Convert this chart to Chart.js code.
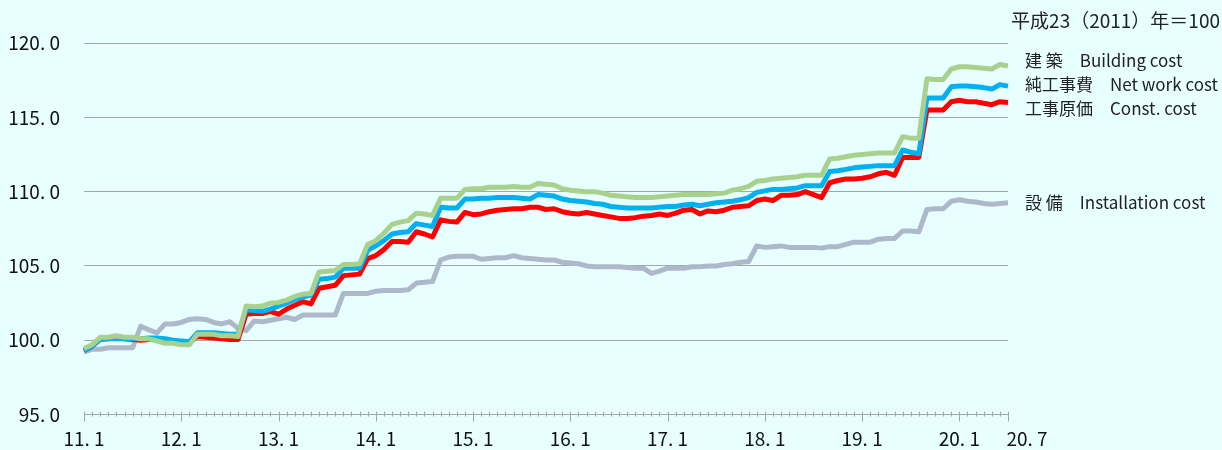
<!DOCTYPE html>
<html>
<head>
<meta charset="utf-8">
<script src="https://cdn.jsdelivr.net/npm/chart.js@4"></script>
<style>
  html, body { margin: 0; padding: 0; background: #e8ffff; }
  #wrap { width: 1222px; height: 450px; position: relative; }
</style>
</head>
<body>
<div id="wrap"><canvas id="costChart"></canvas></div>
<script>
// 月次ラベル 2011.1 〜 2020.7
const years = ['11', '12', '13', '14', '15', '16', '17', '18', '19', '20'];
const lastMonth = 7;
const categories = [];
years.forEach((yy, k) => {
    const end = k === years.length - 1 ? lastMonth : 12;
    for (let m = 1; m <= end; m++) categories.push(yy + '.' + m);
});

const yTicks = [95, 100, 105, 110, 115, 120];

const buildingCost = [
    99.45, 99.7, 100.2, 100.2, 100.3, 100.2, 100.2, 100.1, 100.1, 99.95, 99.8, 99.8,
    99.7, 99.7, 100.4, 100.4, 100.4, 100.3, 100.3, 100.25, 102.3, 102.25, 102.3, 102.5,
    102.55, 102.7, 102.95, 103.1, 103.15, 104.6, 104.65, 104.7, 105.1, 105.1, 105.15, 106.45,
    106.7, 107.2, 107.8, 107.95, 108.05, 108.55, 108.5, 108.4, 109.55, 109.55, 109.55, 110.15,
    110.2, 110.2, 110.3, 110.3, 110.3, 110.35, 110.3, 110.3, 110.55, 110.5, 110.45, 110.2,
    110.1, 110.05, 110.0, 110.0, 109.9, 109.75, 109.7, 109.65, 109.6, 109.6, 109.6, 109.65,
    109.7, 109.75, 109.8, 109.8, 109.8, 109.8, 109.85, 109.9, 110.1, 110.2, 110.35, 110.7,
    110.75, 110.85, 110.9, 110.95, 111.0, 111.1, 111.1, 111.1, 112.2, 112.25, 112.35, 112.45,
    112.5, 112.55, 112.6, 112.6, 112.6, 113.7, 113.6, 113.6, 117.6, 117.55, 117.55, 118.25,
    118.4, 118.4, 118.35, 118.3, 118.25, 118.55, 118.45
];
const netWorkCost = [
    99.3, 99.6, 100.05, 100.1, 100.1, 100.1, 100.1, 100.1, 100.15, 100.15, 100.1, 100.0,
    99.95, 99.9, 100.5, 100.5, 100.5, 100.45, 100.4, 100.4, 102.05, 102.0, 101.95, 102.1,
    102.3, 102.5, 102.75, 102.9, 103.05, 104.1, 104.15, 104.25, 104.85, 104.85, 104.85, 106.05,
    106.35, 106.7, 107.15, 107.25, 107.3, 107.85, 107.75, 107.65, 108.95, 108.9, 108.9, 109.5,
    109.5, 109.55, 109.55, 109.6, 109.6, 109.6, 109.55, 109.5, 109.8, 109.75, 109.7, 109.5,
    109.4, 109.35, 109.3, 109.2, 109.15, 109.0, 108.95, 108.9, 108.9, 108.9, 108.9, 108.95,
    109.0, 109.0, 109.1, 109.15, 109.05, 109.15, 109.25, 109.3, 109.35, 109.45, 109.6, 109.95,
    110.05, 110.15, 110.15, 110.2, 110.25, 110.4, 110.4, 110.4, 111.35, 111.4, 111.5, 111.6,
    111.65, 111.7, 111.75, 111.75, 111.75, 112.8, 112.65, 112.55, 116.3, 116.3, 116.3, 117.05,
    117.1, 117.1, 117.05, 117.0, 116.9, 117.2, 117.1
];
const constCost = [
    99.3, 99.6, 100.1, 100.1, 100.15, 100.1, 100.05, 100.0, 100.05, 100.1, 100.05, 99.95,
    99.9, 99.85, 100.25, 100.2, 100.15, 100.1, 100.05, 100.05, 101.75, 101.8, 101.8, 101.95,
    101.75, 102.1, 102.35, 102.6, 102.45, 103.5, 103.6, 103.7, 104.35, 104.4, 104.45, 105.5,
    105.7, 106.1, 106.65, 106.65, 106.6, 107.3, 107.15, 106.95, 108.1, 108.0, 107.95, 108.6,
    108.45, 108.5, 108.65, 108.75, 108.8, 108.85, 108.85, 108.95, 108.95, 108.8, 108.85, 108.65,
    108.55, 108.5, 108.6, 108.5, 108.4, 108.3, 108.2, 108.2, 108.25, 108.35, 108.4, 108.5,
    108.4, 108.55, 108.75, 108.8, 108.5, 108.7, 108.65, 108.75, 108.95, 109.0, 109.05, 109.4,
    109.5, 109.4, 109.75, 109.75, 109.8, 110.0, 109.8, 109.6, 110.6, 110.75, 110.85, 110.85,
    110.9, 111.0, 111.2, 111.3, 111.1, 112.3, 112.3, 112.3, 115.5, 115.5, 115.5, 116.05,
    116.15, 116.05, 116.05, 115.95, 115.85, 116.05, 116.0
];
const installationCost = [
    99.2, 99.4, 99.4, 99.5, 99.5, 99.5, 99.5, 100.95, 100.7, 100.5, 101.1, 101.1,
    101.2, 101.4, 101.45, 101.4, 101.2, 101.1, 101.25, 100.8, 100.65, 101.3, 101.25, 101.35,
    101.45, 101.55, 101.4, 101.7, 101.7, 101.7, 101.7, 101.7, 103.15, 103.15, 103.15, 103.15,
    103.3, 103.35, 103.35, 103.35, 103.4, 103.85, 103.9, 103.95, 105.4, 105.6, 105.65, 105.65,
    105.65, 105.45, 105.5, 105.55, 105.55, 105.7, 105.55, 105.5, 105.45, 105.4, 105.4, 105.25,
    105.2, 105.15, 105.0, 104.95, 104.95, 104.95, 104.95, 104.9, 104.85, 104.85, 104.5, 104.65,
    104.85, 104.85, 104.85, 104.95, 104.95, 105.0, 105.0, 105.1, 105.15, 105.25, 105.3, 106.35,
    106.25, 106.3, 106.35, 106.25, 106.25, 106.25, 106.25, 106.2, 106.3, 106.3, 106.45, 106.6,
    106.6, 106.6, 106.8, 106.85, 106.85, 107.35, 107.35, 107.3, 108.8, 108.85, 108.85, 109.35,
    109.45, 109.35, 109.3, 109.2, 109.15, 109.2, 109.25
];

const seriesNamesJa = ['建 築', '純工事費', '工事原価', '設 備'];
const seriesNamesEn = ['Building cost', 'Net work cost', 'Const. cost', 'Installation cost'];
const seriesColors = ['#a9d18e', '#00b0f0', '#ff0000', '#adb9ca'];
const baseNote = '平成23（2011）年＝100';

const FONT = '"Noto Sans CJK JP", "Noto Sans", sans-serif';

function fmtDot(s) {
    return s.replace('.', '. ');
}

function isMajor(i) {
    return categories[i].split('.')[1] === '1' || i === categories.length - 1;
}

// 月目盛り（年初は長め）
const monthTicksPlugin = {
    id: 'monthTicks',
    afterDraw(chart) {
        const { ctx, chartArea } = chart;
        const x = chart.scales.x;
        const bottom = chartArea.bottom;
        ctx.save();
        ctx.strokeStyle = '#a6a6a6';
        ctx.lineWidth = 1;
        categories.forEach((c, i) => {
            const px = Math.round(x.getPixelForValue(i)) + 0.5;
            ctx.beginPath();
            ctx.moveTo(px, bottom - 3);
            ctx.lineTo(px, bottom + (isMajor(i) ? 7 : 2));
            ctx.stroke();
        });
        ctx.restore();
    }
};

// 系列名ラベル（右端）と基準年注記
const endLabelsPlugin = {
    id: 'endLabels',
    afterDraw(chart) {
        const { ctx, chartArea } = chart;
        const y = chart.scales.y;
        const items = chart.data.datasets.map((ds, k) => ({
            k,
            pos: y.getPixelForValue(ds.data[ds.data.length - 1])
        }));
        items.sort((a, b) => a.pos - b.pos);
        const gap = 24;
        for (let it = 0; it < 60; it++) {
            for (let j = 0; j < items.length - 1; j++) {
                const d = items[j + 1].pos - items[j].pos;
                if (d < gap) {
                    const s = (gap - d) / 2;
                    items[j].pos -= s;
                    items[j + 1].pos += s;
                }
            }
        }
        ctx.save();
        ctx.font = '17px ' + FONT;
        ctx.fillStyle = '#222';
        ctx.textAlign = 'left';
        ctx.textBaseline = 'middle';
        items.forEach(it => {
            ctx.fillText(seriesNamesJa[it.k] + '\u3000' + seriesNamesEn[it.k], chartArea.right + 17, it.pos);
        });
        ctx.font = '19px ' + FONT;
        ctx.textAlign = 'right';
        ctx.fillText(baseNote, 1220, 21);
        ctx.restore();
    }
};

const ctx = document.getElementById('costChart').getContext('2d');

new Chart(ctx, {
    type: 'line',
    data: {
        labels: categories,
        datasets: [
            { label: seriesNamesJa[0], data: buildingCost, borderColor: seriesColors[0] },
            { label: seriesNamesJa[1], data: netWorkCost, borderColor: seriesColors[1] },
            { label: seriesNamesJa[2], data: constCost, borderColor: seriesColors[2] },
            { label: seriesNamesJa[3], data: installationCost, borderColor: seriesColors[3] }
        ]
    },
    options: {
        responsive: true,
        maintainAspectRatio: false,
        animation: false,
        layout: { padding: { left: 0, right: 214, top: 43, bottom: 0 } },
        elements: {
            line: { borderWidth: 5, tension: 0, fill: false, borderJoinStyle: 'round' },
            point: { radius: 0, hoverRadius: 0 }
        },
        plugins: {
            legend: { display: false },
            tooltip: { enabled: false }
        },
        scales: {
            x: {
                type: 'category',
                offset: false,
                afterFit: scale => { scale.height = 34; },
                grid: { display: false },
                border: { display: true, color: '#a6a6a6', width: 1 },
                ticks: {
                    autoSkip: false,
                    maxRotation: 0,
                    minRotation: 0,
                    padding: 5,
                    color: '#111',
                    font: { family: FONT, size: 19 },
                    callback: function (value, index) {
                        const label = categories[index];
                        if (index === categories.length - 1) return '\u3000\u3000' + fmtDot(label);
                        return isMajor(index) ? fmtDot(label) : '';
                    }
                }
            },
            y: {
                min: yTicks[0],
                max: yTicks[yTicks.length - 1],
                afterFit: scale => { scale.width = 84; },
                afterBuildTicks: scale => { scale.ticks = yTicks.map(v => ({ value: v })); },
                grid: {
                    drawTicks: false,
                    color: c => c.tick && c.tick.value === yTicks[0] ? 'rgba(0,0,0,0)' : '#a6a6a6',
                    lineWidth: 1
                },
                border: { display: false },
                ticks: {
                    padding: 24,
                    color: '#111',
                    font: { family: FONT, size: 19 },
                    callback: v => fmtDot(Number(v).toFixed(1))
                }
            }
        }
    },
    plugins: [monthTicksPlugin, endLabelsPlugin]
});
</script>
</body>
</html>
